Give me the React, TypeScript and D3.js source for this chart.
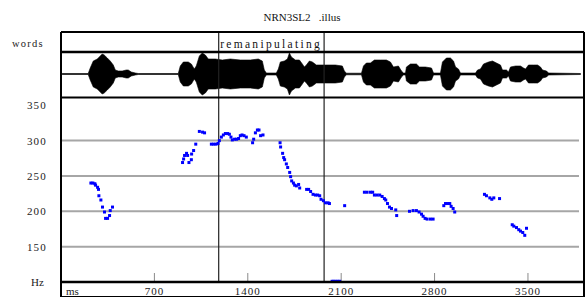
import * as d3 from 'd3'

// pitch track samples: [ms, Hz]
const pitchTrack: [number, number][] = [
  [224, 240], [239, 240], [254, 239], [259, 237], [274, 234], [281, 231], [284, 222], [299, 216],
  [311, 206], [326, 199], [334, 190], [349, 190], [364, 194], [369, 201], [386, 206],
  [911, 269], [919, 274], [926, 279], [941, 282], [949, 279], [959, 269], [977, 273], [979, 281],
  [994, 286], [1010, 295], [1037, 313], [1061, 312], [1076, 311],
  [1127, 295], [1144, 295], [1162, 295], [1177, 296], [1187, 300], [1202, 305], [1217, 308],
  [1232, 310], [1249, 310], [1262, 309], [1274, 305], [1284, 301], [1301, 302], [1316, 302],
  [1331, 303], [1344, 307], [1357, 308], [1372, 307], [1389, 305], [1436, 297], [1444, 302],
  [1457, 311], [1472, 315], [1484, 315], [1496, 307], [1514, 308],
  [1642, 297], [1646, 291], [1661, 282], [1669, 276], [1676, 273], [1689, 267], [1699, 262],
  [1714, 255], [1721, 249], [1729, 243], [1742, 240], [1751, 237], [1764, 236], [1781, 238],
  [1789, 233], [1841, 231], [1856, 231], [1871, 228], [1889, 224], [1907, 223], [1924, 223],
  [1939, 222], [1949, 217], [1967, 215], [1982, 212], [2002, 212], [2012, 211],
  [2032, 101], [2045, 101], [2060, 101], [2075, 101], [2089, 101],
  [2126, 208],
  [2274, 227], [2294, 227], [2319, 227], [2336, 227], [2349, 223], [2369, 223], [2389, 223],
  [2407, 221], [2424, 218], [2434, 216], [2447, 211], [2462, 206], [2477, 204], [2509, 202],
  [2516, 194],
  [2612, 200], [2639, 201], [2664, 201], [2684, 199], [2702, 196], [2714, 193], [2729, 190],
  [2744, 189], [2769, 189], [2789, 189],
  [2869, 208], [2882, 211], [2899, 211], [2914, 211], [2924, 207], [2939, 204], [2951, 199],
  [3174, 224], [3189, 222], [3214, 219], [3229, 217], [3244, 219], [3287, 218],
  [3382, 181], [3394, 179], [3414, 177], [3431, 174], [3444, 172], [3461, 170], [3476, 166],
  [3489, 176],
]

// waveform amplitude envelope: [ms, amplitude]
const waveEnvelope: [number, number][] = [
  [9, 0.5], [204, 0.5], [219, 6], [242, 13], [272, 15], [294, 18], [309, 20], [324, 19],
  [347, 16], [369, 13], [392, 9], [407, 4], [429, 3], [459, 3], [489, 4], [504, 4],
  [527, 2], [557, 1], [579, 0.5], [879, 0.5], [894, 8], [917, 12], [954, 12], [977, 10],
  [999, 5], [1014, 8], [1037, 18], [1059, 21], [1082, 19], [1104, 15], [1157, 15],
  [1209, 14], [1269, 15], [1344, 14], [1419, 14], [1479, 15], [1509, 13], [1524, 4],
  [1539, 1], [1614, 1], [1629, 5], [1644, 12], [1674, 13], [1697, 15], [1712, 21],
  [1727, 17], [1757, 14], [1787, 14], [1809, 10], [1824, 7], [1839, 9], [1862, 13],
  [1884, 12], [1914, 9], [1982, 9], [2057, 9], [2109, 8], [2124, 3], [2139, 0.8],
  [2252, 0.8], [2267, 8], [2289, 11], [2319, 11], [2349, 14], [2394, 14], [2439, 14],
  [2469, 12], [2492, 7], [2529, 8], [2552, 3], [2567, 1], [2582, 1], [2589, 7],
  [2619, 10], [2664, 10], [2687, 7], [2732, 7], [2777, 6], [2792, 1], [2844, 1],
  [2859, 12], [2889, 16], [2919, 16], [2942, 13], [2957, 7], [2979, 5], [2994, 1],
  [3107, 1], [3122, 4], [3144, 5], [3167, 10], [3204, 12], [3234, 13], [3264, 11],
  [3294, 9], [3309, 4], [3339, 4], [3354, 2], [3369, 7], [3407, 8], [3444, 8],
  [3467, 6], [3482, 5], [3504, 9], [3542, 9], [3572, 9], [3594, 7], [3609, 4],
  [3639, 3], [3654, 1], [3894, 0.5],
]

const xTicks = [700, 1400, 2100, 2800, 3500]
const hzLabels = [350, 300, 250, 200, 150]
const hzGrid = [300, 250, 200, 150]
const cursorsMs = [1182, 1972]
const wordLabel = 'remanipulating'

const W = 588
const H = 297
const L = 61
const R = 584
const FONT = '"Liberation Serif", "DejaVu Serif", serif'

export default function App() {
  const x = d3.scaleLinear().domain([0, 3920]).range([L, R])
  const y = d3.scaleLinear().domain([100, 361]).range([282, 97.5])
  const wy = d3.scaleLinear().domain([-22, 22]).range([96, 52])

  const wavePath =
    d3
      .area<[number, number]>()
      .x((d) => x(d[0]))
      .y0((d) => wy(-d[1]))
      .y1((d) => wy(d[1]))(waveEnvelope) || ''

  const tierTop = 32
  const tierBot = 52
  const plotTop = y(361)
  const axisY = y(100)

  return (
    <svg
      width={W}
      height={H}
      viewBox={`0 0 ${W} ${H}`}
      style={{ position: 'fixed', left: 0, top: 0, background: '#fff' }}
      fontFamily={FONT}
    >
      <rect x={0} y={0} width={W} height={H} fill="#fff" />
      <text x={302} y={21} textAnchor="middle" fontSize={11} fill="#111" style={{ whiteSpace: 'pre' }}>
        {'NRN3SL2   .illus'}
      </text>

      {/* words tier */}
      <text x={12} y={47} fontSize={10.5} letterSpacing={1.2} fill="#222">
        words
      </text>
      <text x={x(cursorsMs[0]) + 1.5} y={48} fontSize={11.5} letterSpacing={2.3} fill="#111">
        {wordLabel}
      </text>

      {/* waveform */}
      <path d={wavePath} fill="#000" stroke="#000" strokeWidth={0.6} />

      {/* grid */}
      {hzGrid.map((h) => (
        <line key={h} x1={L} x2={579} y1={y(h)} y2={y(h)} stroke="#a6a6a6" strokeWidth={2} />
      ))}

      {/* x ticks */}
      {xTicks.map((t) => (
        <g key={t}>
          <line x1={x(t)} x2={x(t)} y1={axisY - 9} y2={axisY} stroke="#8a8a8a" strokeWidth={1} />
          <text x={x(t)} y={294.5} textAnchor="middle" fontSize={11} letterSpacing={1} fill="#222">
            {t}
          </text>
        </g>
      ))}
      <text x={66} y={294.5} fontSize={11} fill="#222">
        ms
      </text>

      {/* y labels */}
      {hzLabels.map((h) => (
        <text key={h} x={47} y={y(h) + 4} textAnchor="end" fontSize={11} letterSpacing={1.2} fill="#222">
          {h}
        </text>
      ))}
      <text x={31} y={y(100) + 4} fontSize={11} fill="#222">
        Hz
      </text>

      {/* cursors */}
      {cursorsMs.map((c) => (
        <line key={c} x1={x(c)} x2={x(c)} y1={tierTop} y2={axisY} stroke="#222" strokeWidth={1.2} />
      ))}

      {/* pitch points */}
      {pitchTrack.map((d, i) => (
        <rect key={i} x={x(d[0]) - 1.5} y={y(d[1]) - 1.5} width={3} height={3} fill="#0000ff" />
      ))}

      {/* frame */}
      <line x1={L} x2={L} y1={tierTop} y2={H} stroke="#000" strokeWidth={2} />
      <line x1={R} x2={R} y1={tierTop} y2={H} stroke="#000" strokeWidth={2} />
      <line x1={L} x2={R} y1={tierTop} y2={tierTop} stroke="#000" strokeWidth={2} />
      <line x1={L} x2={R} y1={296.5} y2={296.5} stroke="#000" strokeWidth={1} />
      <line x1={L} x2={R} y1={tierBot} y2={tierBot} stroke="#000" strokeWidth={2.5} />
      <line x1={L} x2={R} y1={plotTop} y2={plotTop} stroke="#000" strokeWidth={2} />
      <line x1={L} x2={R} y1={axisY} y2={axisY} stroke="#000" strokeWidth={2.5} />
    </svg>
  )
}
